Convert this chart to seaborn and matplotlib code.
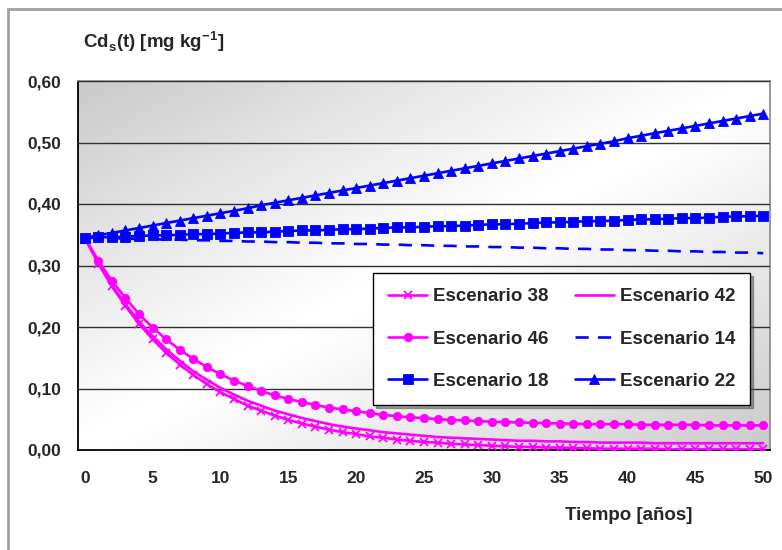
import numpy as np
import pandas as pd
import seaborn as sns
import matplotlib.pyplot as plt
from matplotlib.patches import Rectangle

# years 0..50
years = list(range(51))

esc38 = [0.345, 0.303, 0.266, 0.234, 0.205, 0.180, 0.158, 0.139, 0.122, 0.107,
         0.094, 0.083, 0.072, 0.064, 0.056, 0.049, 0.043, 0.038, 0.033, 0.029,
         0.026, 0.022, 0.020, 0.017, 0.015, 0.013, 0.012, 0.010, 0.009, 0.008,
         0.007, 0.006, 0.005, 0.005, 0.004, 0.004, 0.003, 0.003, 0.002, 0.002,
         0.002, 0.002, 0.002, 0.001, 0.001, 0.001, 0.001, 0.001, 0.001, 0.001,
         0.001]
esc42 = [0.345, 0.304, 0.268, 0.237, 0.209, 0.185, 0.164, 0.145, 0.128, 0.114,
         0.101, 0.090, 0.080, 0.072, 0.064, 0.058, 0.052, 0.047, 0.042, 0.038,
         0.035, 0.032, 0.029, 0.027, 0.025, 0.023, 0.021, 0.020, 0.019, 0.018,
         0.017, 0.016, 0.015, 0.015, 0.014, 0.014, 0.013, 0.013, 0.012, 0.012,
         0.012, 0.012, 0.011, 0.011, 0.011, 0.011, 0.011, 0.011, 0.011, 0.011,
         0.011]
esc46 = [0.345, 0.308, 0.275, 0.247, 0.221, 0.199, 0.180, 0.163, 0.148, 0.135,
         0.123, 0.113, 0.104, 0.096, 0.089, 0.083, 0.078, 0.073, 0.069, 0.066,
         0.063, 0.060, 0.057, 0.055, 0.053, 0.052, 0.050, 0.049, 0.048, 0.047,
         0.046, 0.045, 0.045, 0.044, 0.044, 0.043, 0.043, 0.042, 0.042, 0.042,
         0.042, 0.041, 0.041, 0.041, 0.041, 0.041, 0.040, 0.040, 0.040, 0.040,
         0.040]
esc14 = [0.345, 0.345, 0.344, 0.344, 0.343, 0.343, 0.342, 0.342, 0.341, 0.341,
         0.340, 0.340, 0.339, 0.339, 0.338, 0.338, 0.337, 0.337, 0.336, 0.336,
         0.335, 0.335, 0.334, 0.334, 0.333, 0.333, 0.332, 0.332, 0.331, 0.331,
         0.330, 0.330, 0.329, 0.329, 0.328, 0.328, 0.327, 0.327, 0.326, 0.326,
         0.325, 0.325, 0.324, 0.324, 0.323, 0.323, 0.322, 0.322, 0.321, 0.321,
         0.320]
esc18 = [0.345, 0.346, 0.346, 0.347, 0.348, 0.349, 0.349, 0.350, 0.351, 0.351,
         0.352, 0.353, 0.354, 0.354, 0.355, 0.356, 0.357, 0.357, 0.358, 0.359,
         0.359, 0.360, 0.361, 0.362, 0.362, 0.363, 0.364, 0.364, 0.365, 0.366,
         0.367, 0.367, 0.368, 0.369, 0.370, 0.370, 0.371, 0.372, 0.372, 0.373,
         0.374, 0.375, 0.375, 0.376, 0.377, 0.377, 0.378, 0.379, 0.380, 0.380,
         0.381]
esc22 = [0.345, 0.349, 0.353, 0.357, 0.361, 0.365, 0.369, 0.373, 0.377, 0.381,
         0.385, 0.389, 0.393, 0.398, 0.402, 0.406, 0.410, 0.414, 0.418, 0.422,
         0.426, 0.430, 0.434, 0.438, 0.442, 0.446, 0.450, 0.454, 0.458, 0.462,
         0.466, 0.470, 0.474, 0.478, 0.482, 0.486, 0.490, 0.494, 0.498, 0.502,
         0.507, 0.511, 0.515, 0.519, 0.523, 0.527, 0.531, 0.535, 0.539, 0.543,
         0.547]

x_ticks = [0, 5, 10, 15, 20, 25, 30, 35, 40, 45, 50]
y_ticks = [0.0, 0.1, 0.2, 0.3, 0.4, 0.5, 0.6]
y_tick_labels = ["0,00", "0,10", "0,20", "0,30", "0,40", "0,50", "0,60"]

sns.set_style("white")
plt.rcParams['font.family'] = ['Liberation Sans', 'DejaVu Sans']
plt.rcParams['font.weight'] = 'bold'
plt.rcParams['mathtext.fontset'] = 'custom'
plt.rcParams['mathtext.rm'] = 'Liberation Sans:bold'
plt.rcParams['mathtext.bf'] = 'Liberation Sans:bold'

fig = plt.figure(figsize=(7.82, 5.50), dpi=100)
ax = fig.add_axes([78 / 782, 1 - 450 / 550, (770 - 78) / 782, (450 - 81) / 550])

# gradient background (grey corners, white centre)
gx, gy = np.meshgrid(np.linspace(0, 1, 200), np.linspace(1, 0, 200))
u = (gx + (1 - gy)) / 2
shade = 1 - 0.21 * np.abs(2 * u - 1) ** 1.1
ax.imshow(shade, cmap="gray", vmin=0, vmax=1, extent=[-0.5, 50.5, 0, 0.6],
          aspect="auto", zorder=0, interpolation="bilinear")

mag = "#FF00FF"
blu = "#0000FF"
lw = 1.9
series = [
    ("Escenario 38", esc38, dict(color=mag, marker="x", markersize=6, markeredgewidth=1.3)),
    ("Escenario 46", esc46, dict(color=mag, marker="o", markersize=6)),
    ("Escenario 18", esc18, dict(color=blu, marker="s", markersize=6.5)),
    ("Escenario 42", esc42, dict(color=mag)),
    ("Escenario 14", esc14, dict(color=blu, linestyle=(0, (5, 3.5)))),
    ("Escenario 22", esc22, dict(color=blu, marker="^", markersize=7.5)),
]
for name, vals, kw in series:
    if "marker" in kw:
        kw.setdefault("markeredgewidth", 0.6)
        kw["markeredgecolor"] = kw["color"]
        kw["markerfacecolor"] = kw["color"]
    sns.lineplot(x=years, y=vals, ax=ax, label=name, linewidth=lw, zorder=3, **kw)

ax.set_xlim(-0.5, 50.5)
ax.set_ylim(0, 0.6)
ax.set_xticks(x_ticks)
ax.set_xticklabels([str(t) for t in x_ticks])
ax.set_xticks([t - 0.5 for t in x_ticks], minor=True)
ax.tick_params(axis="x", which="major", length=0, pad=15, labelsize=12.5)
ax.tick_params(axis="x", which="minor", length=6, width=1.2, color="black", direction="out")
ax.set_yticks(y_ticks)
ax.set_yticklabels(y_tick_labels)
ax.tick_params(axis="y", length=6, width=1.2, color="black", direction="out", pad=6, labelsize=12.5)
ax.grid(axis="y", color="#303030", linewidth=1, zorder=1)
ax.set_axisbelow(False)
for s in ["left", "bottom"]:
    ax.spines[s].set_color("black")
    ax.spines[s].set_linewidth(1.3)
for s in ["top", "right"]:
    ax.spines[s].set_color("#909090")
    ax.spines[s].set_linewidth(1.3)
ax.set_xlabel("")
ax.set_ylabel("")

fig.text(83 / 782, 1 - 42 / 550, r"Cd$_\mathrm{s}$(t) [mg kg$^\mathrm{-1}$]",
         fontsize=13.5, fontweight="bold", va="center", ha="left")
fig.text(629 / 782, 1 - 515 / 550, "Tiempo [años]", fontsize=13.5,
         fontweight="bold", va="center", ha="center")

leg = ax.legend(loc="upper left", bbox_to_anchor=(373 / 782, 1 - 273 / 550),
                bbox_transform=fig.transFigure, ncol=2, fontsize=13.5,
                frameon=True, fancybox=False, shadow=True, edgecolor="black",
                framealpha=1, handlelength=2.1, columnspacing=1.4,
                labelspacing=1.35, borderpad=0.8, handletextpad=0.3,
                borderaxespad=0)
leg.get_frame().set_linewidth(1.0)

# outer chart frame
fig.patches.append(Rectangle((8 / 782, -0.1), 1.0, 1 - 9 / 550 + 0.1,
                             transform=fig.transFigure, fill=False,
                             edgecolor="#a0a0a0", linewidth=2))

fig.savefig("out.png", dpi=100)
